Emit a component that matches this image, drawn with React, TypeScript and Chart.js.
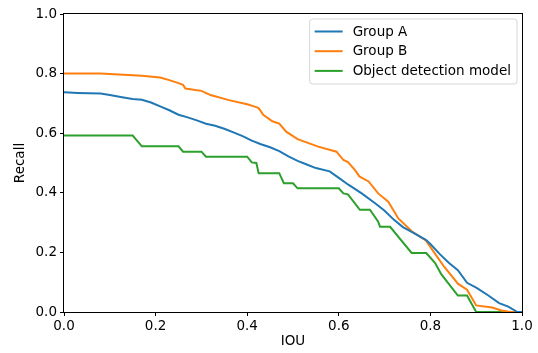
import React, { useEffect, useRef } from "react";
import { Chart, registerables } from "chart.js";

Chart.register(...registerables);

const seriesLabels = ["Group A", "Group B", "Object detection model"];
const seriesColors = ["#1f77b4", "#ff7f0e", "#2ca02c"];

const groupA_iou = [0, 0.03, 0.08, 0.10, 0.13, 0.15, 0.17, 0.19, 0.21, 0.23, 0.25, 0.27, 0.29, 0.31, 0.33, 0.35, 0.37, 0.39, 0.41, 0.43, 0.45, 0.47, 0.49, 0.51, 0.53, 0.55, 0.58, 0.60, 0.62, 0.65, 0.68, 0.70, 0.72, 0.74, 0.76, 0.79, 0.80, 0.82, 0.84, 0.86, 0.88, 0.90, 0.925, 0.95, 0.97, 0.99, 1.0];
const groupA_recall = [0.737, 0.735, 0.733, 0.728, 0.72, 0.715, 0.712, 0.703, 0.69, 0.677, 0.662, 0.653, 0.643, 0.632, 0.625, 0.615, 0.603, 0.59, 0.575, 0.563, 0.553, 0.54, 0.522, 0.507, 0.495, 0.483, 0.472, 0.45, 0.428, 0.398, 0.364, 0.34, 0.31, 0.285, 0.268, 0.242, 0.228, 0.195, 0.165, 0.14, 0.098, 0.082, 0.057, 0.03, 0.018, 0, 0];

const groupB_iou = [0, 0.08, 0.12, 0.17, 0.21, 0.23, 0.25, 0.26, 0.265, 0.30, 0.32, 0.36, 0.40, 0.415, 0.425, 0.435, 0.455, 0.47, 0.485, 0.51, 0.555, 0.595, 0.61, 0.62, 0.635, 0.645, 0.665, 0.686, 0.708, 0.73, 0.76, 0.79, 0.81, 0.83, 0.86, 0.88, 0.90, 0.935, 0.955, 0.975, 1.0];
const groupB_recall = [0.80, 0.80, 0.797, 0.793, 0.787, 0.778, 0.768, 0.762, 0.75, 0.742, 0.728, 0.711, 0.697, 0.69, 0.684, 0.662, 0.64, 0.632, 0.605, 0.58, 0.555, 0.538, 0.51, 0.503, 0.477, 0.455, 0.438, 0.398, 0.37, 0.314, 0.27, 0.24, 0.196, 0.152, 0.095, 0.075, 0.022, 0.015, 0.005, 0, 0];

const model_iou = [0, 0.15, 0.17, 0.25, 0.26, 0.30, 0.31, 0.40, 0.41, 0.42, 0.425, 0.47, 0.48, 0.50, 0.51, 0.60, 0.61, 0.62, 0.646, 0.668, 0.686, 0.69, 0.712, 0.759, 0.791, 0.81, 0.824, 0.86, 0.88, 0.90, 1.0];
const model_recall = [0.592, 0.592, 0.556, 0.556, 0.538, 0.538, 0.521, 0.521, 0.502, 0.5, 0.466, 0.466, 0.432, 0.432, 0.415, 0.415, 0.398, 0.395, 0.343, 0.343, 0.303, 0.286, 0.286, 0.198, 0.198, 0.165, 0.126, 0.055, 0.055, 0, 0];

const xTickValues = [0, 0.2, 0.4, 0.6, 0.8, 1.0];
const yTickValues = [0, 0.2, 0.4, 0.6, 0.8, 1.0];
const xTitle = "IOU";
const yTitle = "Recall";

const FONT = "'DejaVu Sans', sans-serif";
const FS = 13.5;

const toPoints = (xs: number[], ys: number[]) => xs.map((x, i) => ({ x, y: ys[i] }));

const frameAndLegend = {
  id: "frameAndLegend",
  afterDatasetsDraw(chart: any) {
    const { ctx, chartArea } = chart;
    const { left, top, right, bottom } = chartArea;
    ctx.save();
    ctx.strokeStyle = "#000";
    ctx.lineWidth = 1;
    ctx.strokeRect(Math.round(left) - 0.5, Math.round(top) - 0.5, Math.round(right - left) + 1, Math.round(bottom - top) + 1);

    // legend
    ctx.font = `${FS}px ${FONT}`;
    const labels = chart.data.datasets.map((d: any) => d.label);
    const maxW = Math.max(...labels.map((l: string) => ctx.measureText(l).width));
    const bw = 5 + 28 + 10 + maxW + 6;
    const bh = 65;
    const bx = right - 5 - bw;
    const by = top + 5;
    ctx.beginPath();
    const r = 3;
    ctx.moveTo(bx + r, by);
    ctx.lineTo(bx + bw - r, by);
    ctx.quadraticCurveTo(bx + bw, by, bx + bw, by + r);
    ctx.lineTo(bx + bw, by + bh - r);
    ctx.quadraticCurveTo(bx + bw, by + bh, bx + bw - r, by + bh);
    ctx.lineTo(bx + r, by + bh);
    ctx.quadraticCurveTo(bx, by + bh, bx, by + bh - r);
    ctx.lineTo(bx, by + r);
    ctx.quadraticCurveTo(bx, by, bx + r, by);
    ctx.closePath();
    ctx.fillStyle = "rgba(255,255,255,0.85)";
    ctx.fill();
    ctx.strokeStyle = "#d6d6d6";
    ctx.lineWidth = 1;
    ctx.stroke();
    chart.data.datasets.forEach((d: any, i: number) => {
      const cy = by + 12.5 + i * 19.7;
      ctx.beginPath();
      ctx.strokeStyle = d.borderColor;
      ctx.lineWidth = 2;
      ctx.moveTo(bx + 5, cy);
      ctx.lineTo(bx + 33, cy);
      ctx.stroke();
      ctx.fillStyle = "#000";
      ctx.textBaseline = "middle";
      ctx.textAlign = "left";
      ctx.fillText(d.label, bx + 43, cy + 0.5);
    });
    ctx.restore();
  },
};

export default function App() {
  const ref = useRef<HTMLCanvasElement>(null);
  useEffect(() => {
    document.body.style.margin = "0";
    const canvas = ref.current!;
    const chart = new Chart(canvas, {
      type: "line",
      data: {
        datasets: [
          { label: seriesLabels[0], data: toPoints(groupA_iou, groupA_recall), borderColor: seriesColors[0] },
          { label: seriesLabels[1], data: toPoints(groupB_iou, groupB_recall), borderColor: seriesColors[1] },
          { label: seriesLabels[2], data: toPoints(model_iou, model_recall), borderColor: seriesColors[2] },
        ].map((d) => ({ ...d, borderWidth: 2, pointRadius: 0, tension: 0, fill: false, backgroundColor: d.borderColor })),
      },
      options: {
        animation: false,
        responsive: false,
        maintainAspectRatio: false,
        layout: { padding: { top: 14, right: 16, left: 0, bottom: 0 } },
        plugins: { legend: { display: false }, tooltip: { enabled: false } },
        scales: {
          x: {
            type: "linear",
            min: 0,
            max: 1,
            afterBuildTicks: (s: any) => { s.ticks = xTickValues.map((v) => ({ value: v })); },
            afterFit: (s: any) => { s.height = 41; },
            grid: { display: true, drawOnChartArea: false, drawTicks: true, tickLength: 4, color: "#000" },
            border: { display: false },
            ticks: { color: "#000", font: { family: FONT, size: FS }, padding: 2, maxRotation: 0, callback: (v: any) => Number(v).toFixed(1) },
            title: { display: true, text: xTitle, color: "#000", font: { family: FONT, size: FS }, padding: { top: 0, bottom: 3 } },
          },
          y: {
            type: "linear",
            min: 0,
            max: 1,
            afterBuildTicks: (s: any) => { s.ticks = yTickValues.map((v) => ({ value: v })); },
            afterFit: (s: any) => { s.width = 64; },
            grid: { display: true, drawOnChartArea: false, drawTicks: true, tickLength: 4, color: "#000" },
            border: { display: false },
            ticks: { color: "#000", font: { family: FONT, size: FS }, padding: 3, callback: (v: any) => Number(v).toFixed(1) },
            title: { display: true, text: yTitle, color: "#000", font: { family: FONT, size: FS }, padding: { top: 12, bottom: 0 } },
          },
        },
      },
      plugins: [frameAndLegend],
    });
    return () => chart.destroy();
  }, []);
  return (
    <div style={{ width: 538, height: 353 }}>
      <canvas ref={ref} width={538} height={353} style={{ display: "block", width: 538, height: 353 }} />
    </div>
  );
}
